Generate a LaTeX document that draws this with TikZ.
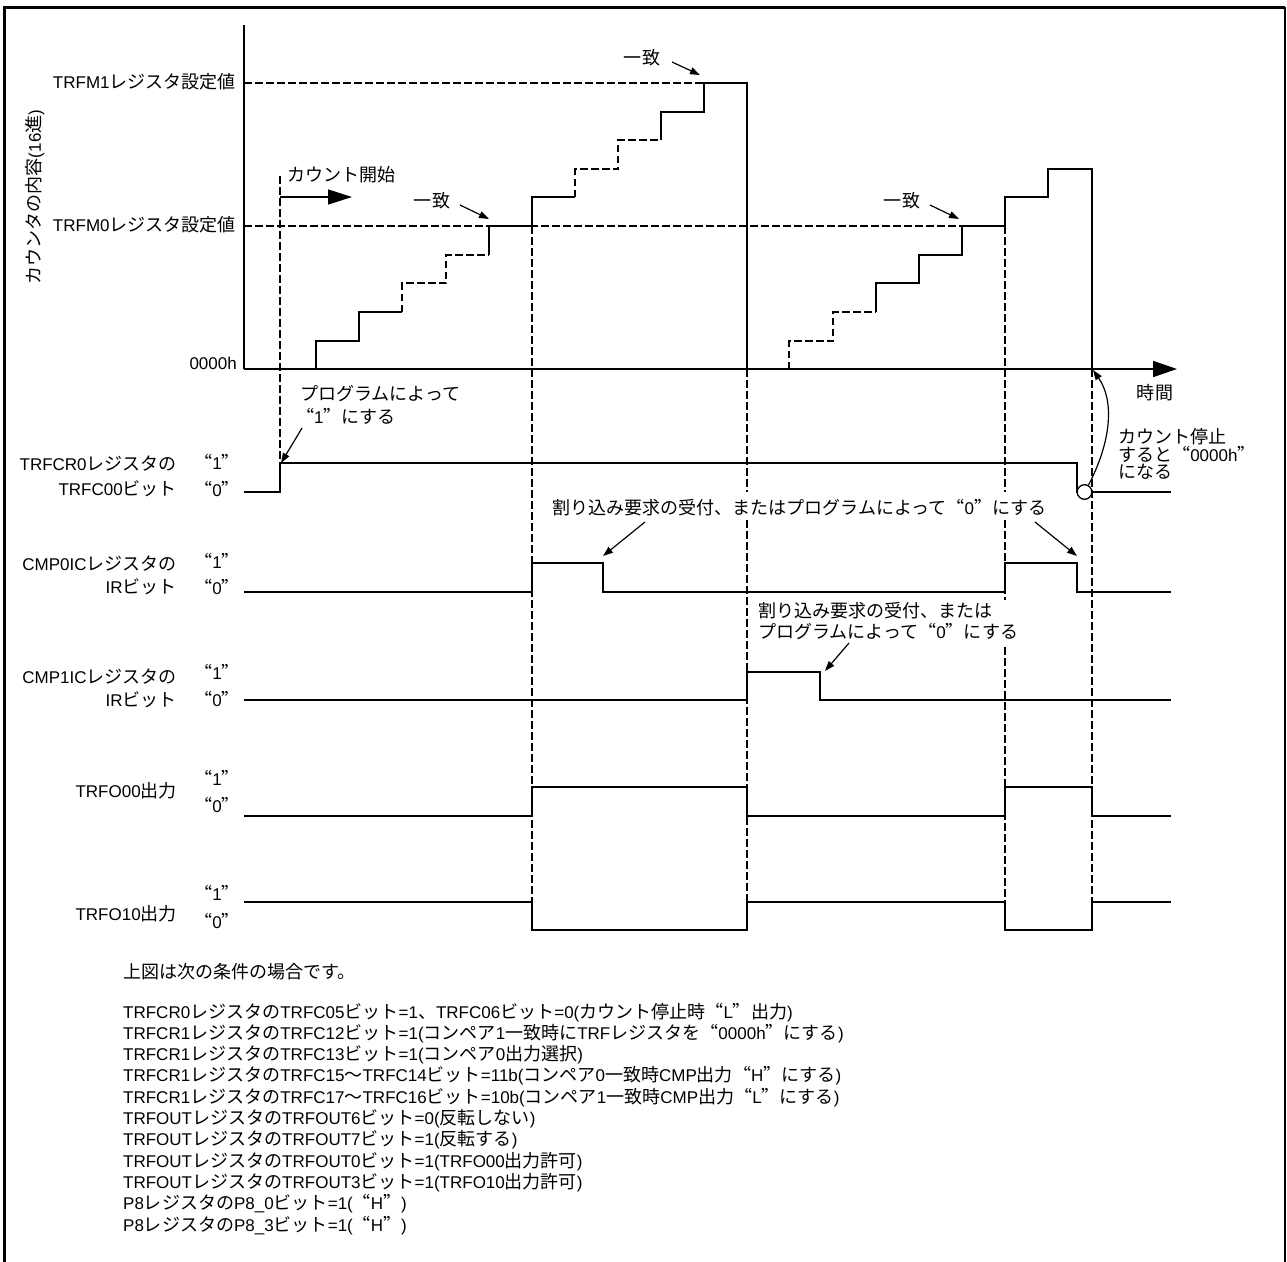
\documentclass[tikz,border=0pt]{standalone}
\usepackage{fontspec}
\setmainfont{Liberation Sans}
\newfontfamily\jpfont{Noto Sans CJK JP}[Scale=1.06,RawFeature=+fwid]
\usetikzlibrary{arrows.meta}
\XeTeXinterchartokenstate=1
\newXeTeXintercharclass\cjkcls
\newcount\cjkc
\def\setcjkrange#1#2{\cjkc=#1\relax\loop\XeTeXcharclass\cjkc=\cjkcls\relax\advance\cjkc by 1\relax\ifnum\cjkc<#2\relax\repeat}
\setcjkrange{"3000}{"3100}
\setcjkrange{"4E00}{"A000}
\setcjkrange{"FF00}{"FFF0}
\XeTeXcharclass"201C=\cjkcls
\XeTeXcharclass"201D=\cjkcls
\XeTeXinterchartoks 0 \cjkcls={\begingroup\jpfont}
\XeTeXinterchartoks 4095 \cjkcls={\begingroup\jpfont}
\XeTeXinterchartoks \cjkcls 0={\endgroup}
\XeTeXinterchartoks \cjkcls 4095={\endgroup}
\begin{document}
\begin{tikzpicture}[x=1bp,y=-1bp,
  txt/.style={inner sep=0pt,font=\fontsize{17bp}{20bp}\selectfont},
  sig/.style={line width=1.4bp},
  dsh/.style={line width=2.7bp,dash pattern=on 7.5bp off 3.5bp},
  stp/.style={line width=1.4bp},
  axs/.style={line width=1.6bp},
  arr/.style={line width=1.2bp,-{Triangle[length=10bp,width=7bp]}},
  bigarr/.style={line width=1.5bp,-{Triangle[length=24bp,width=15bp]}},
  frm/.style={line width=3bp}]
\useasboundingbox (0,0) rectangle (1287,1262);
% frame
\draw[frm] (4.5,1262) -- (4.5,7) -- (1285,7);
\draw[line width=2bp] (1285,7) -- (1285,1262);
% axes
\coordinate (o) at (244,369);
\coordinate (ytop) at (244,25);
\coordinate (xend) at (1177,369);
\draw[axs] (ytop) -- (o);
\draw[axs,-{Triangle[length=24bp,width=16bp]}] (o) -- (xend);
% reference levels
\draw[dsh] (244,83) -- (704,83);
\draw[dsh] (244,226) -- (962,226);
% staircase
\draw[stp] (316,369) -- (316,341) -- (359,341) -- (359,312) -- (402,312);
\draw[dsh] (402,312) -- (402,283) -- (446,283) -- (446,255) -- (489,255);
\draw[stp] (489,255) -- (489,226) -- (532,226) -- (532,197) -- (575,197);
\draw[dsh] (575,197) -- (575,169) -- (618,169) -- (618,140) -- (661,140);
\draw[stp] (661,140) -- (661,112) -- (704,112) -- (704,83) -- (747,83) -- (747,369);
\draw[dsh] (789,369) -- (789,341) -- (833,341) -- (833,312) -- (876,312);
\draw[stp] (876,312) -- (876,283) -- (919,283) -- (919,255) -- (962,255) -- (962,226) -- (1005,226) -- (1005,197) -- (1048,197) -- (1048,169) -- (1092,169) -- (1092,369);
% long dashed verticals
\draw[dsh] (280,176) -- (280,463);
\draw[dsh] (532,226) -- (532,930);
\draw[dsh] (747,369) -- (747,492);
\draw[dsh] (747,520) -- (747,930);
\draw[dsh] (1005,226) -- (1005,492);
\draw[dsh] (1005,520) -- (1005,600);
\draw[dsh] (1005,647) -- (1005,930);
\draw[dsh] (1092,369) -- (1092,930);
% signals
\draw[sig] (244,492) -- (280,492) -- (280,463) -- (1077,463) -- (1077,492) -- (1171,492);
\draw[sig] (244,592) -- (532,592) -- (532,563) -- (603,563) -- (603,592) -- (1005,592) -- (1005,563) -- (1077,563) -- (1077,592) -- (1171,592);
\draw[sig] (244,700) -- (747,700) -- (747,672) -- (820,672) -- (820,700) -- (1171,700);
\draw[sig] (244,816) -- (532,816) -- (532,787) -- (747,787) -- (747,816) -- (1005,816) -- (1005,787) -- (1092,787) -- (1092,816) -- (1171,816);
\draw[sig] (244,902) -- (532,902) -- (532,930) -- (747,930) -- (747,902) -- (1005,902) -- (1005,930) -- (1092,930) -- (1092,902) -- (1171,902);
\node[circle,draw,fill=white,line width=1.3bp,minimum size=14.6bp,inner sep=0pt] (stopc) at (1084.5,492) {};
% axis labels
\node[txt,anchor=base east] (tm1) at (236,88.5) {TRFM1レジスタ設定値};
\node[txt,anchor=base east] (tm0) at (236,231.5) {TRFM0レジスタ設定値};
\node[txt,anchor=base east] (zero) at (237,369) {0000h};
\node[txt,rotate=90] (ylab) at (35,197) {カウンタの内容(16進)};
\node[txt,anchor=center] (tlab) at (1155,392.5) {時間};
% count start
\node[txt,anchor=base west] (cstart) at (287,181) {カウント開始};
\coordinate (cs0) at (280,197);
\coordinate (cs1) at (352,197);
\draw[bigarr] (cs0) -- (cs1);
% match labels
\node[txt,anchor=base] (m1) at (432,207.5) {一致};
\node[txt,anchor=base] (m2) at (642,64) {一致};
\node[txt,anchor=base] (m3) at (902,207.5) {一致};
\coordinate (m1a) at (460,205); \coordinate (m1b) at (489,219);
\coordinate (m2a) at (672,62);  \coordinate (m2b) at (700,75);
\coordinate (m3a) at (930,205); \coordinate (m3b) at (959,219);
\draw[arr] (m1a) -- (m1b);
\draw[arr] (m2a) -- (m2b);
\draw[arr] (m3a) -- (m3b);
% program sets 1
\node[txt,anchor=base west] (p1a) at (300,400) {プログラムによって};
\node[txt,anchor=base west] (p1b) at (296,423) {“1”にする};
\coordinate (p1s) at (302,428); \coordinate (p1t) at (281,463);
\draw[arr] (p1s) -- (p1t);
% interrupt text (top)
\node[txt,anchor=base west] (irq1) at (552,514) {割り込み要求の受付、またはプログラムによって“0”にする};
\coordinate (i1s) at (645,522); \coordinate (i1t) at (603,556);
\coordinate (i2s) at (1035,522); \coordinate (i2t) at (1077,556);
\draw[arr] (i1s) -- (i1t);
\draw[arr] (i2s) -- (i2t);
% interrupt text (lower)
\node[txt,anchor=base west] (irq2a) at (758,617) {割り込み要求の受付、または};
\node[txt,anchor=base west] (irq2b) at (758,638) {プログラムによって“0”にする};
\coordinate (i3s) at (849,643); \coordinate (i3t) at (825,671);
\draw[arr] (i3s) -- (i3t);
% count stop
\node[txt,anchor=base west] (st1) at (1118,443.5) {カウント停止};
\node[txt,anchor=base west] (st2) at (1118,461) {すると“0000h”};
\node[txt,anchor=base west] (st3) at (1118,478) {になる};
\coordinate (cz) at (1093,370);
\draw[line width=1.2bp,-{Triangle[length=10bp,width=7bp]}] (stopc.60) .. controls (1112,440) and (1114,400) .. (cz);
% signal labels
\node[txt,anchor=base east] (l0a) at (177,470) {TRFCR0レジスタの};
\node[txt,anchor=base east] (l0b) at (177,495) {TRFC00ビット};
\node[txt,anchor=base] (q0a) at (217,469.5) {“1”};
\node[txt,anchor=base] (q0b) at (217,496) {“0”};
\node[txt,anchor=base east] (l1a) at (177,570) {CMP0ICレジスタの};
\node[txt,anchor=base east] (l1b) at (177,593) {IRビット};
\node[txt,anchor=base] (q1a) at (217,568) {“1”};
\node[txt,anchor=base] (q1b) at (217,594) {“0”};
\node[txt,anchor=base east] (l2a) at (177,683) {CMP1ICレジスタの};
\node[txt,anchor=base east] (l2b) at (177,706) {IRビット};
\node[txt,anchor=base] (q2a) at (217,679) {“1”};
\node[txt,anchor=base] (q2b) at (217,706) {“0”};
\node[txt,anchor=base east] (l3) at (177,797) {TRFO00出力};
\node[txt,anchor=base] (q3a) at (217,785) {“1”};
\node[txt,anchor=base] (q3b) at (217,812) {“0”};
\node[txt,anchor=base east] (l4) at (177,920) {TRFO10出力};
\node[txt,anchor=base] (q4a) at (217,900) {“1”};
\node[txt,anchor=base] (q4b) at (217,928) {“0”};
% conditions
\node[txt,anchor=base west] (c0) at (123,978) {上図は次の条件の場合です。};
\node[txt,anchor=base west] (c1) at (123,1018) {TRFCR0レジスタのTRFC05ビット=1、TRFC06ビット=0(カウント停止時“L”出力)};
\node[txt,anchor=base west] (c2) at (123,1039.3) {TRFCR1レジスタのTRFC12ビット=1(コンペア1一致時にTRFレジスタを“0000h”にする)};
\node[txt,anchor=base west] (c3) at (123,1060.6) {TRFCR1レジスタのTRFC13ビット=1(コンペア0出力選択)};
\node[txt,anchor=base west] (c4) at (123,1081.9) {TRFCR1レジスタのTRFC15～TRFC14ビット=11b(コンペア0一致時CMP出力“H”にする)};
\node[txt,anchor=base west] (c5) at (123,1103.2) {TRFCR1レジスタのTRFC17～TRFC16ビット=10b(コンペア1一致時CMP出力“L”にする)};
\node[txt,anchor=base west] (c6) at (123,1124.5) {TRFOUTレジスタのTRFOUT6ビット=0(反転しない)};
\node[txt,anchor=base west] (c7) at (123,1145.8) {TRFOUTレジスタのTRFOUT7ビット=1(反転する)};
\node[txt,anchor=base west] (c8) at (123,1167.1) {TRFOUTレジスタのTRFOUT0ビット=1(TRFO00出力許可)};
\node[txt,anchor=base west] (c9) at (123,1188.4) {TRFOUTレジスタのTRFOUT3ビット=1(TRFO10出力許可)};
\node[txt,anchor=base west] (c10) at (123,1209.7) {P8レジスタのP8\_0ビット=1(“H”)};
\node[txt,anchor=base west] (c11) at (123,1231) {P8レジスタのP8\_3ビット=1(“H”)};
\end{tikzpicture}
\end{document}
